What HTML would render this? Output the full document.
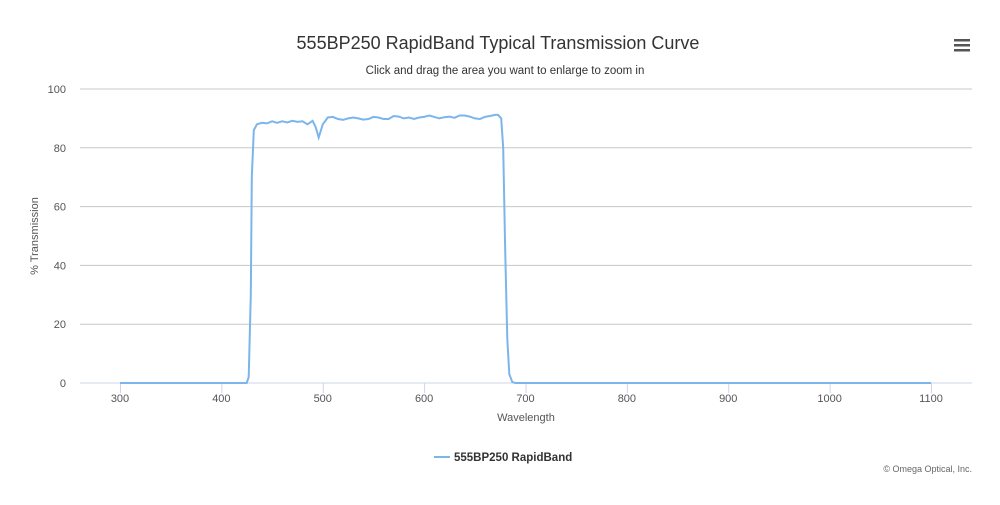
<!DOCTYPE html>
<html><head><meta charset="utf-8"><style>
body{margin:0;background:#fff;font-family:"Liberation Sans",sans-serif}
svg text{font-family:"Liberation Sans",sans-serif}
</style></head><body>
<svg width="1000" height="500" viewBox="0 0 1000 500">
<rect width="1000" height="500" fill="#fff"/>
<text x="498" y="49" text-anchor="middle" font-size="18" fill="#333">555BP250 RapidBand Typical Transmission Curve</text>
<text x="505" y="74" text-anchor="middle" font-size="11.5" fill="#333">Click and drag the area you want to enlarge to zoom in</text>
<g>
<rect x="954" y="39" width="16" height="2.5" fill="#555"/><rect x="954" y="44" width="16" height="2.5" fill="#555"/><rect x="954" y="49" width="16" height="2.5" fill="#555"/>
</g>
<g id="grid"></g>
<g id="xaxis"></g>
<text x="526" y="421" text-anchor="middle" font-size="11" fill="#555">Wavelength</text>
<text transform="translate(38,236) rotate(-90)" text-anchor="middle" font-size="11" fill="#555">% Transmission</text>
<path id="series" fill="none" stroke="#7cb5ec" stroke-width="2"/>
<g>
<line x1="434" y1="457" x2="450" y2="457" stroke="#7cb5ec" stroke-width="2"/>
<text x="454" y="461" font-size="11.5" font-weight="bold" fill="#333">555BP250 RapidBand</text>
</g>
<text x="972" y="472" text-anchor="end" font-size="9" fill="#666">© Omega Optical, Inc.</text>
</svg>
<script>
const xTicks=[300,400,500,600,700,800,900,1000,1100];
const yTicks=[0,20,40,60,80,100];
const wavelengths=[300,425,427,429,430,432,435,440,445,450,455,460,465,470,475,480,485,490,493,496,500,505,510,515,520,525,530,535,540,545,550,555,560,565,570,575,580,585,590,595,600,605,610,615,620,625,630,635,640,645,650,655,660,665,670,673,676,678,680,682,684,687,690,1100];
const transmission=[0,0,2,30,70,86,88,88.5,88.3,89,88.5,89,88.6,89.2,88.8,89,88,89.2,87,83.5,88,90.3,90.5,89.8,89.5,90,90.3,90,89.6,89.8,90.5,90.3,89.8,89.8,90.8,90.6,90,90.3,89.8,90.3,90.5,91,90.5,90,90.4,90.6,90.2,91,91,90.6,90,89.8,90.5,90.8,91.2,91.2,90,80,45,15,3,0.3,0,0];
const X=w=>120+(w-300)*(811/800);
const Y=v=>383-v*2.94;
const NS="http://www.w3.org/2000/svg";
const grid=document.getElementById('grid');
yTicks.forEach(t=>{
 const l=document.createElementNS(NS,'line');
 
 
 l.setAttribute('x1',80);l.setAttribute('x2',972);l.setAttribute('y1',Y(t));l.setAttribute('y2',Y(t));
 l.setAttribute('stroke',t===0?'#ccd6eb':'#c8c8c8');l.setAttribute('stroke-width',1);
 grid.appendChild(l);
 const tx=document.createElementNS(NS,'text');
 
 
 tx.setAttribute('x',66);tx.setAttribute('y',Y(t)+4);tx.setAttribute('text-anchor','end');
 tx.setAttribute('font-size','11');tx.setAttribute('fill','#555');tx.textContent=t;
 grid.appendChild(tx);
});
const xa=document.getElementById('xaxis');
xTicks.forEach(t=>{
 const l=document.createElementNS(NS,'line');
 
 
 l.setAttribute('x1',X(t)+0.5);l.setAttribute('x2',X(t)+0.5);l.setAttribute('y1',383);l.setAttribute('y2',393);
 l.setAttribute('stroke','#ccd6eb');
 xa.appendChild(l);
 const tx=document.createElementNS(NS,'text');
 
 
 tx.setAttribute('x',X(t));tx.setAttribute('y',402);tx.setAttribute('text-anchor','middle');
 tx.setAttribute('font-size','11');tx.setAttribute('fill','#555');tx.textContent=t;
 xa.appendChild(tx);
});
document.getElementById('series').setAttribute('d',wavelengths.map((w,i)=>(i?'L':'M')+X(w).toFixed(1)+','+Y(transmission[i]).toFixed(1)).join(''));
</script>
</body></html>
